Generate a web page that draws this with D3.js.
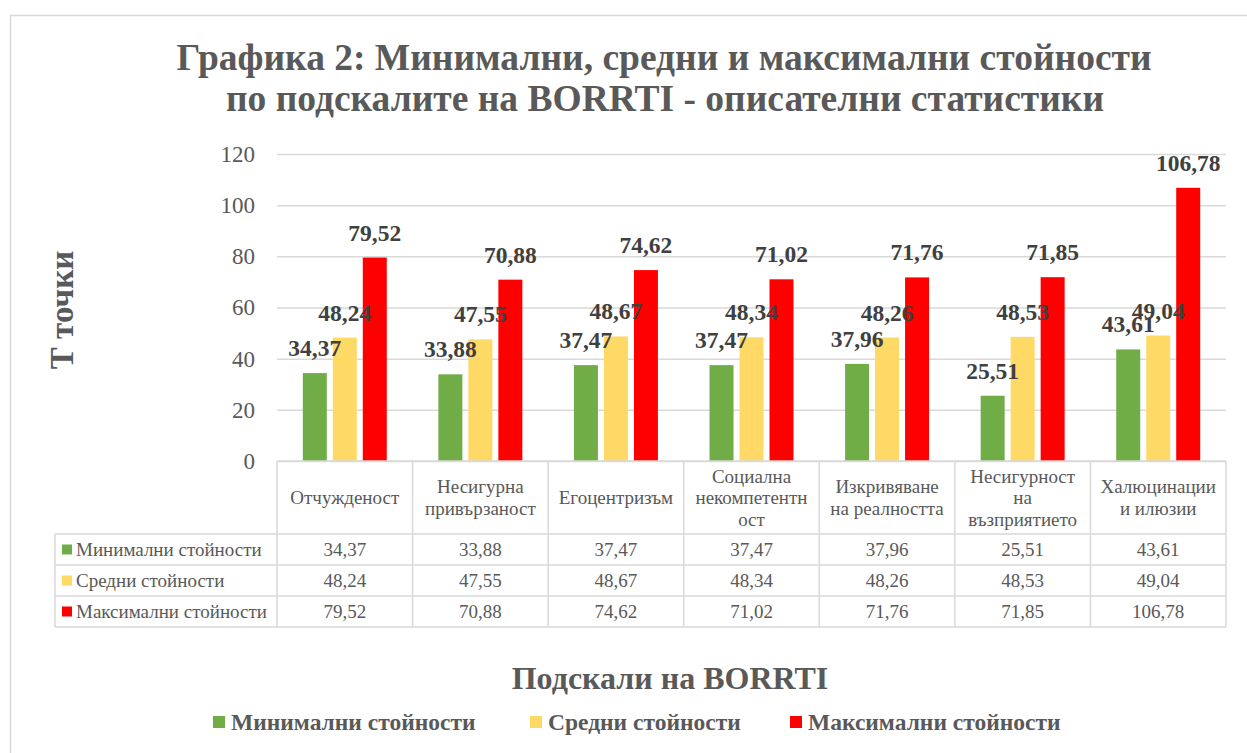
<!DOCTYPE html>
<html>
<head>
<meta charset="utf-8">
<script src="https://cdn.jsdelivr.net/npm/d3@7"></script>
<style>
  body { margin: 0; background: #fff; }
  svg { font-family: "Liberation Serif", "Times New Roman", serif; }
</style>
</head>
<body>
<div id="chart"></div>
<script>
// Data
const categories = ["Отчужденост", "Несигурна привързаност", "Егоцентризъм",
    "Социална некомпетентност", "Изкривяване на реалността",
    "Несигурност на възприятието", "Халюцинации и илюзии"];
const categoryLines = [
    ["Отчужденост"],
    ["Несигурна", "привързаност"],
    ["Егоцентризъм"],
    ["Социална", "некомпетентн", "ост"],
    ["Изкривяване", "на реалността"],
    ["Несигурност", "на", "възприятието"],
    ["Халюцинации", "и илюзии"]
];
const seriesNames = ["Минимални стойности", "Средни стойности", "Максимални стойности"];
const minValues = [34.37, 33.88, 37.47, 37.47, 37.96, 25.51, 43.61];
const meanValues = [48.24, 47.55, 48.67, 48.34, 48.26, 48.53, 49.04];
const maxValues = [79.52, 70.88, 74.62, 71.02, 71.76, 71.85, 106.78];
const yTicks = [0, 20, 40, 60, 80, 100, 120];
const colors = ["#70ad47", "#ffd966", "#ff0000"];

const seriesValues = [minValues, meanValues, maxValues];
const fmt = v => v.toFixed(2).replace(".", ",");

const W = 1247, H = 753;
const plot = { left: 277, right: 1226, top: 154, bottom: 461 };
const table = { left: 55, headerBottom: 534, rowH: 31 };

const svg = d3.select("#chart").append("svg")
    .attr("width", W)
    .attr("height", H);

// Outer chart border
svg.append("rect")
    .attr("x", 10.5).attr("y", 15.5)
    .attr("width", W + 20).attr("height", H + 20)
    .attr("fill", "#fff")
    .attr("stroke", "#d9d9d9")
    .attr("stroke-width", 1.5);

// Title
const title = svg.append("text")
    .attr("text-anchor", "middle")
    .attr("font-size", 37.5)
    .attr("font-weight", "bold")
    .attr("fill", "#595959");
title.append("tspan").attr("x", 664).attr("y", 70)
    .text("Графика 2: Минимални, средни и максимални стойности");
title.append("tspan").attr("x", 665).attr("y", 111)
    .text("по подскалите на BORRTI - описателни статистики");

// Scales
const x0 = d3.scaleBand().domain(categories).range([plot.left, plot.right]);
const x1 = d3.scaleBand().domain(seriesNames).range([0, x0.bandwidth()])
    .paddingInner(0.2).paddingOuter(0.86);
const y = d3.scaleLinear().domain([0, 120]).range([plot.bottom, plot.top]);

// Y axis with gridlines
const yAxis = svg.append("g")
    .attr("transform", "translate(" + plot.left + ",0)")
    .call(d3.axisLeft(y).tickValues(yTicks)
        .tickSize(-(plot.right - plot.left))
        .tickPadding(22)
        .tickFormat(d3.format("d")));
yAxis.select(".domain").remove();
yAxis.selectAll(".tick line").attr("stroke", "#d9d9d9").attr("stroke-width", 1.5);
yAxis.selectAll(".tick text")
    .attr("font-size", 23)
    .attr("fill", "#595959")
    .attr("font-family", "Liberation Serif");

// Y title
svg.append("text")
    .attr("transform", "translate(73,310) rotate(-90)")
    .attr("text-anchor", "middle")
    .attr("font-size", 33)
    .attr("font-weight", "bold")
    .attr("fill", "#595959")
    .text("Т точки");

// Bars
const groups = svg.append("g").selectAll("g")
    .data(categories)
    .join("g")
    .attr("transform", d => "translate(" + x0(d) + ",0)");

groups.selectAll("rect")
    .data((d, i) => seriesNames.map((s, j) => ({ s: s, j: j, v: seriesValues[j][i] })))
    .join("rect")
    .attr("x", d => x1(d.s))
    .attr("width", x1.bandwidth())
    .attr("y", d => y(d.v))
    .attr("height", d => y(0) - y(d.v))
    .attr("fill", d => colors[d.j]);

groups.selectAll("text")
    .data((d, i) => seriesNames.map((s, j) => ({ s: s, j: j, v: seriesValues[j][i] })))
    .join("text")
    .attr("x", d => x1(d.s) + x1.bandwidth() / 2)
    .attr("y", d => y(d.v) - 17)
    .attr("text-anchor", "middle")
    .attr("font-size", 23.5)
    .attr("font-weight", "bold")
    .attr("fill", "#404040")
    .text(d => fmt(d.v));

// Data table
const grid = svg.append("g")
    .attr("stroke", "#d9d9d9")
    .attr("stroke-width", 1.5);
const tableBottom = table.headerBottom + table.rowH * 3;

// horizontal lines
grid.append("line")
    .attr("x1", plot.left).attr("x2", plot.right)
    .attr("y1", plot.bottom).attr("y2", plot.bottom);
[0, 1, 2, 3].forEach(r => {
    const yy = table.headerBottom + r * table.rowH;
    grid.append("line")
        .attr("x1", table.left).attr("x2", plot.right)
        .attr("y1", yy).attr("y2", yy);
});
// vertical lines
categories.forEach(c => {
    grid.append("line")
        .attr("x1", x0(c)).attr("x2", x0(c))
        .attr("y1", plot.bottom).attr("y2", tableBottom);
});
grid.append("line")
    .attr("x1", plot.right).attr("x2", plot.right)
    .attr("y1", plot.bottom).attr("y2", tableBottom);
grid.append("line")
    .attr("x1", table.left).attr("x2", table.left)
    .attr("y1", table.headerBottom).attr("y2", tableBottom);

// header labels
const headerMid = (plot.bottom + table.headerBottom) / 2;
categories.forEach((c, i) => {
    const lines = categoryLines[i];
    const lh = 21.5;
    const t = svg.append("text")
        .attr("text-anchor", "middle")
        .attr("font-size", 19)
        .attr("fill", "#595959");
    lines.forEach((l, k) => {
        t.append("tspan")
            .attr("x", x0(c) + x0.bandwidth() / 2)
            .attr("y", headerMid + 6.5 + (k - (lines.length - 1) / 2) * lh)
            .text(l);
    });
});

// value rows
seriesNames.forEach((s, j) => {
    const cy = table.headerBottom + j * table.rowH + table.rowH / 2;
    svg.append("rect")
        .attr("x", 62).attr("y", cy - 5)
        .attr("width", 10).attr("height", 10)
        .attr("fill", colors[j]);
    svg.append("text")
        .attr("x", 76).attr("y", cy + 6.5)
        .attr("font-size", 19)
        .attr("fill", "#595959")
        .text(s);
    categories.forEach((c, i) => {
        svg.append("text")
            .attr("x", x0(c) + x0.bandwidth() / 2)
            .attr("y", cy + 6.5)
            .attr("text-anchor", "middle")
            .attr("font-size", 19)
            .attr("fill", "#595959")
            .text(fmt(seriesValues[j][i]));
    });
});

// X title
svg.append("text")
    .attr("x", 670).attr("y", 689)
    .attr("text-anchor", "middle")
    .attr("font-size", 32)
    .attr("font-weight", "bold")
    .attr("fill", "#595959")
    .text("Подскали на BORRTI");

// Legend
const legendX = [213, 530, 790];
seriesNames.forEach((s, j) => {
    const g = svg.append("g").attr("transform", "translate(" + legendX[j] + ",722)");
    g.append("rect")
        .attr("x", 0).attr("y", -6)
        .attr("width", 12).attr("height", 12)
        .attr("fill", colors[j]);
    g.append("text")
        .attr("x", 18).attr("y", 8)
        .attr("font-size", 23.5)
        .attr("font-weight", "bold")
        .attr("fill", "#595959")
        .text(s);
});
</script>
</body>
</html>
